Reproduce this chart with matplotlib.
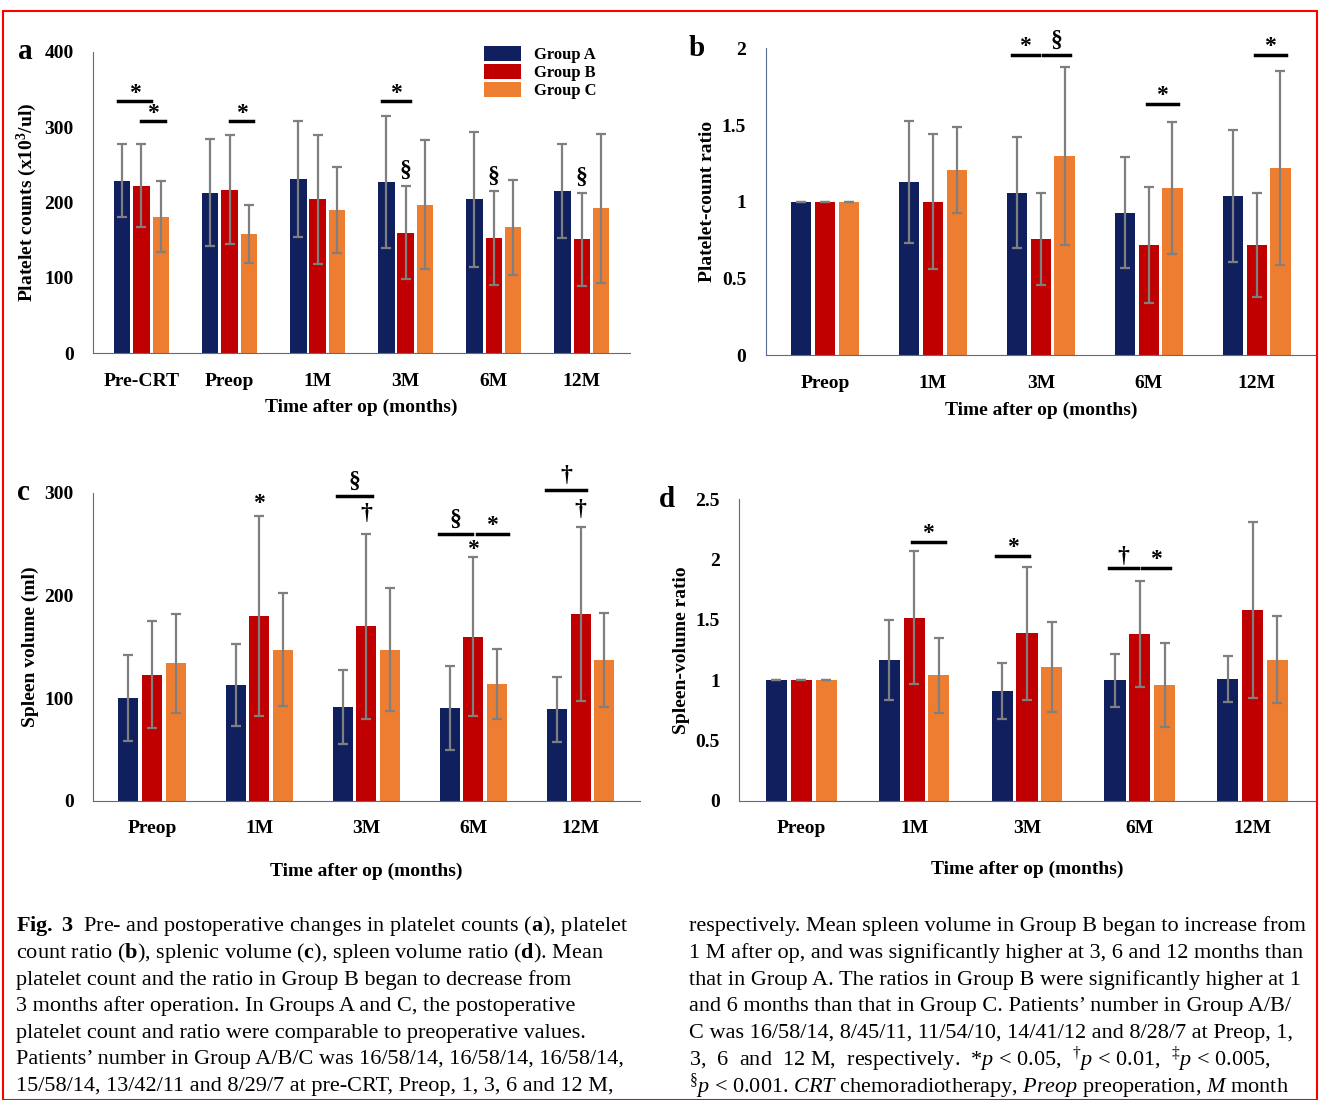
import numpy as np
import matplotlib
matplotlib.use('Agg')
from matplotlib import pyplot as plt
from matplotlib.patches import Rectangle

plt.rcParams['font.family'] = ['Liberation Serif', 'DejaVu Serif']
plt.rcParams['mathtext.fontset'] = 'custom'
plt.rcParams['mathtext.rm'] = 'Liberation Serif'
plt.rcParams['mathtext.it'] = 'Liberation Serif:italic'
plt.rcParams['mathtext.bf'] = 'Liberation Serif:bold'

groups = ['Group A', 'Group B', 'Group C']
colors = ['#10205e', '#c00000', '#ed7d31']

# panel a: platelet counts
cats_a = ['Pre-CRT', 'Preop', '1M', '3M', '6M', '12M']
a_mean = [[229, 213, 231, 227, 204, 215],
          [222, 217, 204, 160, 153, 151],
          [181, 158, 190, 197, 167, 192]]
a_sd = [[48, 71, 77, 88, 90, 62],
        [55, 72, 86, 62, 62, 62],
        [47, 38, 57, 86, 63, 99]]

# panel b: platelet-count ratio
cats = ['Preop', '1M', '3M', '6M', '12M']
b_mean = [[1, 1.13, 1.06, 0.93, 1.04],
          [1, 1.00, 0.76, 0.72, 0.72],
          [1, 1.21, 1.30, 1.09, 1.22]]
b_sd = [[0, 0.40, 0.36, 0.36, 0.43],
        [0, 0.44, 0.30, 0.38, 0.34],
        [0, 0.28, 0.58, 0.43, 0.63]]

# panel c: spleen volume
c_mean = [[100, 113, 91, 90, 89],
          [123, 180, 170, 160, 182],
          [134, 147, 147, 114, 137]]
c_sd = [[42, 40, 36, 41, 32],
        [52, 97, 90, 77, 85],
        [48, 55, 60, 34, 46]]

# panel d: spleen-volume ratio
d_mean = [[1, 1.17, 0.91, 1.00, 1.01],
          [1, 1.52, 1.39, 1.38, 1.58],
          [1, 1.04, 1.11, 0.96, 1.17]]
d_sd = [[0, 0.33, 0.23, 0.22, 0.19],
        [0, 0.55, 0.55, 0.44, 0.73],
        [0, 0.31, 0.37, 0.35, 0.36]]

W = 0.22


def bars(ax, cats, mean, sd, ymax, yticks, ylabel, letter, xlabel_y):
    x = np.arange(len(cats))
    for i in range(3):
        ax.bar(x + (i - 1) * W, mean[i], W * 0.85, color=colors[i], label=groups[i],
               yerr=sd[i], ecolor='#7f7f7f', capsize=3.5, error_kw=dict(elinewidth=1.6, capthick=1.6))
    ax.set_ylim(0, ymax)
    ax.set_xlim(-0.55, len(cats) - 0.45)
    ax.set_yticks(yticks)
    ax.set_yticklabels([('%g' % t) for t in yticks], fontsize=14, fontweight='bold')
    ax.set_xticks(x)
    ax.set_xticklabels(cats, fontsize=14, fontweight='bold')
    ax.tick_params(length=0, pad=14)
    for s in ['top', 'right']:
        ax.spines[s].set_visible(False)
    for s in ['left', 'bottom']:
        ax.spines[s].set_color('#5b6b8c')
    ax.set_ylabel(ylabel, fontsize=14, fontweight='bold')
    ax.set_xlabel('Time after op (months)', fontsize=14, fontweight='bold')
    ax.xaxis.set_label_coords(0.5, xlabel_y)
    ax.text(-0.14, 1.0, letter, transform=ax.transAxes, fontsize=21, va='center', fontweight='bold')
    return x


def sig(ax, x0, x1, y, s, dy):
    ax.plot([x0, x1], [y, y], color='black', lw=2.5, clip_on=False)
    ax.text((x0 + x1) / 2, y + dy, s, ha='center', va='center', fontsize=17, clip_on=False,
            fontweight='bold')


def mark(ax, x, y, s):
    ax.text(x, y, s, ha='center', va='center', fontsize=17, clip_on=False, fontweight='bold')


fig = plt.figure(figsize=(13.2, 11), dpi=100)

ax = fig.add_axes([0.0705, 0.679, 0.407, 0.274])
x = bars(ax, cats_a, a_mean, a_sd, 400, [0, 100, 200, 300, 400], r'Platelet counts (x10$^\mathbf{3}$/ul)', 'a', -0.15)
leg = ax.legend(loc='upper right', bbox_to_anchor=(0.95, 1.04), frameon=False,
                prop=dict(size=12, weight='bold'),
                handlelength=2.2, handleheight=1.0, labelspacing=0.05, borderaxespad=0)
sig(ax, -W - 0.05, W * 0.5, 334, '*', 10)
sig(ax, 0, W + 0.05, 308, '*', 10)
sig(ax, 1, 1 + W + 0.05, 308, '*', 10)
sig(ax, 3 - W - 0.05, 3 + 0.05, 334, '*', 10)
for i in [3, 4, 5]:
    mark(ax, i, a_mean[1][i] + a_sd[1][i] + 20, '§')

ax = fig.add_axes([0.58, 0.677, 0.417, 0.279])
bars(ax, cats, b_mean, b_sd, 2, [0, 0.5, 1, 1.5, 2], 'Platelet-count ratio', 'b', -0.15)
sig(ax, 2 - W - 0.05, 2 - 0.02, 1.96, '*', 0.05)
sig(ax, 2 + 0.02, 2 + W + 0.05, 1.96, '§', 0.09)
sig(ax, 3 - 0.02, 3 + W + 0.05, 1.64, '*', 0.05)
sig(ax, 4 - 0.02, 4 + W + 0.05, 1.96, '*', 0.05)

ax = fig.add_axes([0.0705, 0.272, 0.414, 0.28])
bars(ax, cats, c_mean, c_sd, 300, [0, 100, 200, 300], 'Spleen volume (ml)', 'c', -0.2)
mark(ax, 1, 290, '*')
sig(ax, 2 - W - 0.05, 2 + 0.05, 297, '§', 14)
mark(ax, 2, 280, '†')
sig(ax, 3 - W - 0.1, 3 - 0.01, 260, '§', 14)
sig(ax, 3 + 0.03, 3 + W + 0.1, 260, '*', 8)
mark(ax, 3, 245, '*')
sig(ax, 4 - W - 0.1, 4 + 0.05, 303, '†', 14)
mark(ax, 4, 284, '†')

ax = fig.add_axes([0.56, 0.272, 0.436, 0.274])
bars(ax, cats, d_mean, d_sd, 2.5, [0, 0.5, 1, 1.5, 2, 2.5], 'Spleen-volume ratio', 'd', -0.2)
sig(ax, 1 - 0.02, 1 + W + 0.05, 2.15, '*', 0.07)
sig(ax, 2 - W - 0.05, 2 + 0.02, 2.03, '*', 0.07)
sig(ax, 3 - W - 0.05, 3 - 0.02, 1.93, '†', 0.1)
sig(ax, 3 + 0.02, 3 + W + 0.05, 1.93, '*', 0.07)

left = [
    r"$\mathbf{Fig.\ 3}$  Pre- and postoperative changes in platelet counts ($\mathbf{a}$), platelet",
    r"count ratio ($\mathbf{b}$), splenic volume ($\mathbf{c}$), spleen volume ratio ($\mathbf{d}$). Mean",
    "platelet count and the ratio in Group B began to decrease from",
    "3 months after operation. In Groups A and C, the postoperative",
    "platelet count and ratio were comparable to preoperative values.",
    "Patients\u2019 number in Group A/B/C was 16/58/14, 16/58/14, 16/58/14,",
    "15/58/14, 13/42/11 and 8/29/7 at pre-CRT, Preop, 1, 3, 6 and 12 M,",
]
right = [
    "respectively. Mean spleen volume in Group B began to increase from",
    "1 M after op, and was significantly higher at 3, 6 and 12 months than",
    "that in Group A. The ratios in Group B were significantly higher at 1",
    "and 6 months than that in Group C. Patients\u2019 number in Group A/B/",
    "C was 16/58/14, 8/45/11, 11/54/10, 14/41/12 and 8/28/7 at Preop, 1,",
    r"3,  6  and  12 M,  respectively.  *$p$ < 0.05,  $^{\dagger}p$ < 0.01,  $^{\ddagger}p$ < 0.005,",
    r"$^{\S}p$ < 0.001. $CRT$ chemoradiotherapy, $Preop$ preoperation, $M$ month",
]
for k, t in enumerate(left):
    fig.text(0.012, 0.158 - k * 0.0243, t, fontsize=16, va='center')
for k, t in enumerate(right):
    fig.text(0.522, 0.158 - k * 0.0243, t, fontsize=16, va='center')

fig.patches.append(Rectangle((0.002, 0.0), 0.996, 0.99, transform=fig.transFigure,
                             fill=False, edgecolor='red', lw=1.5))

fig.savefig('out.png', dpi=100)
